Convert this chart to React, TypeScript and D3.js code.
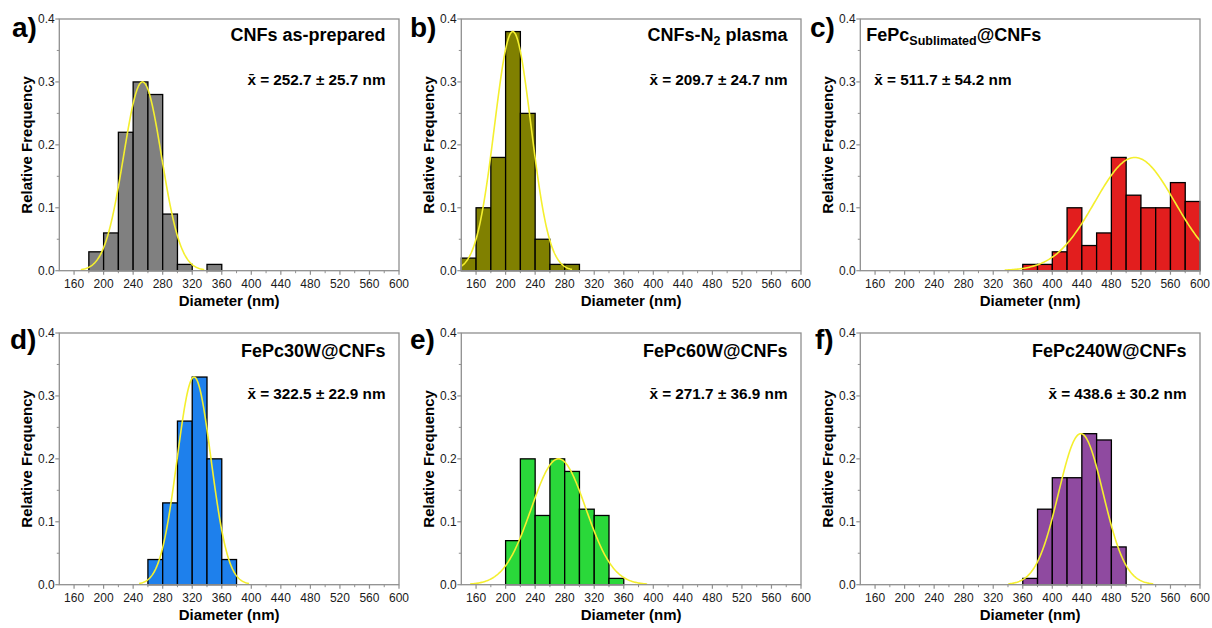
import React from "react";
import * as d3 from "d3";

// histogram data, 20 nm bins (left edge of each bin)
const binWidth = 20;
const binsA = [180, 200, 220, 240, 260, 280, 300, 340];
const freqA = [0.03, 0.06, 0.22, 0.3, 0.28, 0.09, 0.01, 0.01];
const binsB = [140, 160, 180, 200, 220, 240, 260, 280];
const freqB = [0.02, 0.1, 0.18, 0.38, 0.25, 0.05, 0.01, 0.01];
const binsC = [360, 380, 400, 420, 440, 460, 480, 500, 520, 540, 560, 580];
const freqC = [0.01, 0.01, 0.03, 0.1, 0.04, 0.06, 0.18, 0.12, 0.1, 0.1, 0.14, 0.11];
const binsD = [260, 280, 300, 320, 340, 360];
const freqD = [0.04, 0.13, 0.26, 0.33, 0.2, 0.04];
const binsE = [200, 220, 240, 260, 280, 300, 320, 340];
const freqE = [0.07, 0.2, 0.11, 0.2, 0.18, 0.12, 0.11, 0.01];
const binsF = [360, 380, 400, 420, 440, 460, 480];
const freqF = [0.01, 0.12, 0.17, 0.17, 0.24, 0.23, 0.06];

// fitted normal curves
const means = [252.7, 209.7, 511.7, 322.5, 271.7, 438.6];
const sds = [25.7, 24.7, 54.2, 22.9, 36.9, 30.2];
const peaks = [0.3, 0.38, 0.18, 0.33, 0.2, 0.24];

const panelLetters = ["a)", "b)", "c)", "d)", "e)", "f)"];
const barColors = ["#808080", "#808000", "#e21e1e", "#1e80ec", "#2ad83a", "#8f4aa0"];
const titles = [
  [{ t: "CNFs as-prepared" }],
  [{ t: "CNFs-N" }, { t: "2", sub: true }, { t: " plasma" }],
  [{ t: "FePc" }, { t: "Sublimated", sub: true }, { t: "@CNFs" }],
  [{ t: "FePc30W@CNFs" }],
  [{ t: "FePc60W@CNFs" }],
  [{ t: "FePc240W@CNFs" }],
];

const xDomain = [140, 600];
const yDomain = [0, 0.4];
const xTicks = [160, 200, 240, 280, 320, 360, 400, 440, 480, 520, 560, 600];
const xMinor = [180, 220, 260, 300, 340, 380, 420, 460, 500, 540, 580];
const yTicks = [0, 0.1, 0.2, 0.3, 0.4];
const yMinor = [0.05, 0.15, 0.25, 0.35];

const bins = [binsA, binsB, binsC, binsD, binsE, binsF];
const freqs = [freqA, freqB, freqC, freqD, freqE, freqF];

const font = "'Liberation Sans', Arial, sans-serif";
const plotLefts = [59.3, 461.3, 860.3];
const plotTops = [19, 333];
const plotW = 339.7;
const plotH = 251.7;
const labelX = [12, 410, 810, 10, 410, 815];

function Panel({ i }: { i: number }) {
  const col = i % 3;
  const row = Math.floor(i / 3);
  const left = plotLefts[col];
  const top = plotTops[row];
  const x = d3.scaleLinear().domain(xDomain).range([left, left + plotW]);
  const y = d3.scaleLinear().domain(yDomain).range([top + plotH, top]);

  const m = means[i];
  const s = sds[i];
  const curveX = d3.range(m - 3.25 * s, m + 3.25 * s + 0.01, (6.5 * s) / 200);
  const line = d3
    .line<number>()
    .x((v) => x(v))
    .y((v) => y(peaks[i] * Math.exp(-((v - m) ** 2) / (2 * s * s))));

  const leftAligned = i === 2;
  const textX = leftAligned ? left + 6 : left + plotW - 13.5;
  const anchor = leftAligned ? "start" : "end";
  const titleY = top + (row === 0 ? 21.7 : 24.3);
  const meanY = top + 65.5;
  const clipId = `clip-${i}`;

  return (
    <g>
      <defs>
        <clipPath id={clipId}>
          <rect x={left} y={top} width={plotW} height={plotH} />
        </clipPath>
      </defs>
      {/* bars */}
      {bins[i].map((b, k) => (
        <rect
          key={k}
          x={x(b)}
          y={y(freqs[i][k])}
          width={x(b + binWidth) - x(b)}
          height={y(0) - y(freqs[i][k])}
          fill={barColors[i]}
          stroke="#000"
          strokeWidth={1.3}
        />
      ))}
      <path
        d={line(curveX) || ""}
        fill="none"
        stroke="#f4ef2e"
        strokeWidth={1.6}
        clipPath={`url(#${clipId})`}
      />
      {/* frame */}
      <rect x={left} y={top} width={plotW} height={plotH} fill="none" stroke="#8f8f8f" strokeWidth={1.3} />
      {xTicks.map((t) => (
        <g key={t}>
          <line x1={x(t)} x2={x(t)} y1={y(0)} y2={y(0) + 4} stroke="#8f8f8f" strokeWidth={1.2} />
          <text x={x(t)} y={y(0) + 16.8} textAnchor="middle" fontSize={12} fill="#1a1a1a" fontFamily={font}>
            {t}
          </text>
        </g>
      ))}
      {xMinor.map((t) => (
        <line key={t} x1={x(t)} x2={x(t)} y1={y(0)} y2={y(0) + 2.5} stroke="#8f8f8f" strokeWidth={1} />
      ))}
      {yTicks.map((t) => (
        <g key={t}>
          <line x1={left - 4} x2={left} y1={y(t)} y2={y(t)} stroke="#8f8f8f" strokeWidth={1.2} />
          <text x={left - 4.5} y={y(t) + 4.3} textAnchor="end" fontSize={12} fill="#1a1a1a" fontFamily={font}>
            {t.toFixed(1)}
          </text>
        </g>
      ))}
      {yMinor.map((t) => (
        <line key={t} x1={left - 2.5} x2={left} y1={y(t)} y2={y(t)} stroke="#8f8f8f" strokeWidth={1} />
      ))}
      {/* axis titles */}
      <text
        x={left + plotW / 2}
        y={top + plotH + 35}
        textAnchor="middle"
        fontSize={15}
        fontWeight="bold"
        fontFamily={font}
        fill="#000"
      >
        Diameter (nm)
      </text>
      <text
        transform={`translate(${left - 27.5},${top + plotH / 2}) rotate(-90)`}
        textAnchor="middle"
        fontSize={15}
        fontWeight="bold"
        fontFamily={font}
        fill="#000"
      >
        Relative Frequency
      </text>
      {/* panel letter */}
      <text x={labelX[i]} y={top + (row === 0 ? 17.5 : 16)} fontSize={28} fontWeight="bold" fontFamily={font} fill="#000">
        {panelLetters[i]}
      </text>
      {/* sample title */}
      <text x={textX} y={titleY} textAnchor={anchor} fontSize={18} fontWeight="bold" fontFamily={font} fill="#000">
        {titles[i].map((seg, k) => {
          const prevSub = k > 0 && titles[i][k - 1].sub;
          const dy = seg.sub ? 4.5 : prevSub ? -4.5 : 0;
          return (
            <tspan key={k} dy={dy} fontSize={seg.sub ? 12.5 : 18}>
              {seg.t}
            </tspan>
          );
        })}
      </text>
      {/* mean +- sd */}
      <text x={leftAligned ? left + 14 : textX} y={meanY} textAnchor={anchor} fontSize={15.3} fontWeight="bold" fontFamily={font} fill="#000">
        {`x\u0304 = ${m.toFixed(1)} \u00b1 ${s.toFixed(1)} nm`}
      </text>
    </g>
  );
}

export default function App() {
  return (
    <svg
      width={1212}
      height={628}
      style={{ position: "absolute", left: 0, top: 0, background: "#fff" }}
    >
      <rect width={1212} height={628} fill="#fff" />
      {[0, 1, 2, 3, 4, 5].map((i) => (
        <Panel key={i} i={i} />
      ))}
    </svg>
  );
}
